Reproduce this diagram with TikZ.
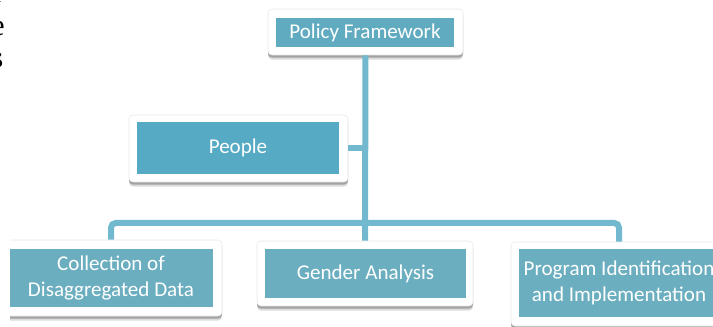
\documentclass[tikz,border=0pt]{standalone}
\usepackage{fontspec}
\setmainfont{Carlito}
\newfontfamily\serifface{Liberation Serif}
\usetikzlibrary{shadows}

\definecolor{linkblue}{RGB}{114,185,207}
\definecolor{topteal}{RGB}{96,171,192}
\definecolor{peopleteal}{RGB}{87,170,196}
\definecolor{lowteal}{RGB}{107,174,192}
\definecolor{frameedge}{RGB}{232,232,232}

\tikzset{
  outerframe/.style={rectangle, rounded corners=3pt, fill=white, draw=frameedge,
    line width=0.4pt, inner sep=0pt,
    drop shadow={shadow xshift=0pt, shadow yshift=-3.4pt, fill=black, opacity=0.14},
    drop shadow={shadow xshift=0pt, shadow yshift=-2pt, fill=black, opacity=0.26}},
  tealbox/.style={rectangle, fill=#1, text=white, inner sep=0pt, align=center,
    font=\fontsize{15.8}{19}\selectfont},
  link/.style={draw=linkblue, line width=4.5pt},
  serifbit/.style={anchor=base east, inner sep=0pt, font=\serifface\fontsize{22.5}{22.5}\selectfont}
}

\begin{document}
\begin{tikzpicture}[x=0.75pt, y=-0.75pt]
  \useasboundingbox (0,0) rectangle (713,327);
  \clip (0,0) rectangle (713,327);

  % ends of a text column running in from the left
  \node[serifbit] (txtr) at (4,3) {r};
  \node[serifbit] (txte) at (5,36) {e};
  \node[serifbit] (txts) at (3.5,68) {s};

  % top of the hierarchy
  \node[outerframe, minimum width=146.25pt, minimum height=34.5pt] (pfF) at (365.5,32) {};
  \node[tealbox=topteal, minimum width=133.5pt, minimum height=21.75pt] (pf) at (365,32.5) {Policy Framework};

  % side branch
  \node[outerframe, minimum width=164.25pt, minimum height=50.25pt] (peF) at (238.5,148.5) {};
  \node[tealbox=peopleteal, minimum width=151.5pt, minimum height=39pt] (pe) at (238,148) {People};

  % lower row
  \begin{scope}
    \clip (10,230) rectangle (713,327);
    \node[outerframe, minimum width=166.5pt, minimum height=57pt] (cdF) at (111,278) {};
    \node[tealbox=lowteal, minimum width=153pt, minimum height=43.5pt] (cd) at (111,278) {Collection of\\Disaggregated Data};
  \end{scope}

  \node[outerframe, minimum width=162pt, minimum height=48.75pt] (gaF) at (365,273.5) {};
  \node[tealbox=lowteal, minimum width=150.75pt, minimum height=36.75pt] (ga) at (365.5,273.5) {Gender Analysis};

  \node[outerframe, minimum width=162pt, minimum height=63pt] (piF) at (619,284) {};
  \node[tealbox=lowteal, minimum width=150pt, minimum height=51pt] (pi) at (619,283) {Program Identification\\and Implementation};

  % connectors
  \coordinate (bar) at (365,223);
  \draw[link] (pfF.south) -- (gaF.north);
  \draw[link] (peF.east) -- (peF.east -| pfF.south);
  \draw[link, rounded corners=3.5pt] (cdF.north) |- (bar) -| (piF.north);
\end{tikzpicture}
\end{document}
